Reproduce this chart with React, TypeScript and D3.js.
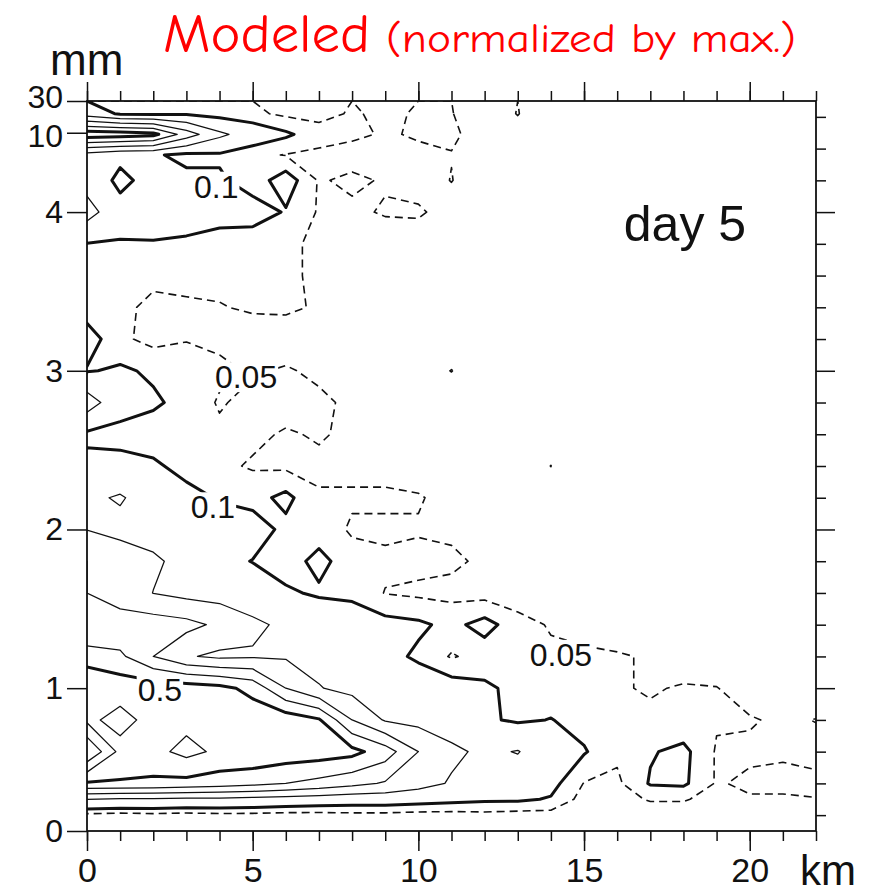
import React, { useEffect, useRef } from 'react';
import * as d3 from 'd3';

// distance along x (km), one grid column per km
const distanceKm = [0, 1, 2, 3, 4, 5, 6, 7, 8, 9, 10, 11, 12, 13, 14, 15, 16, 17, 18, 19, 20, 21, 22];

// drop size bin position (index units on the y axis) for each grid row, bottom to top
const binIndex = [0.5, 1.0, 1.5, 2.5, 3.5, 4.5, 5.5, 6.5, 7.5, 8.5, 9.5, 10.5, 11.5, 12.5, 13.5, 14.5, 15.5, 16.5, 17.5, 18.5, 19.5, 20.5, 21.3, 21.95, 22.6];

// normalized values, one array per size bin (row00 = smallest drops)
const row00 = [0.035, 0.03, 0.035, 0.03, 0.035, 0.035, 0.03, 0.03, 0.035, 0.035, 0.03, 0.03, 0.035, 0.03, 0.03, 0.02, 0.02, 0.02, 0.02, 0.02, 0.02, 0.03, 0.035];
const row00h = [0.2, 0.19, 0.19, 0.18, 0.18, 0.17, 0.16, 0.15, 0.14, 0.14, 0.13, 0.12, 0.11, 0.11, 0.095, 0.03, 0.03, 0.055, 0.055, 0.03, 0.045, 0.045, 0.048];
const row01 = [0.49, 0.49, 0.48, 0.47, 0.45, 0.43, 0.4, 0.37, 0.33, 0.29, 0.24, 0.19, 0.17, 0.14, 0.12, 0.048, 0.04, 0.105, 0.11, 0.045, 0.06, 0.06, 0.065];
const row02 = [0.8, 0.57, 0.57, 0.63, 0.58, 0.58, 0.56, 0.55, 0.53, 0.45, 0.3, 0.22, 0.18, 0.205, 0.13, 0.105, 0.06, 0.095, 0.115, 0.045, 0.04, 0.045, 0.03];
const row03 = [0.58, 0.63, 0.57, 0.57, 0.57, 0.56, 0.56, 0.51, 0.3, 0.19, 0.17, 0.15, 0.11, 0.09, 0.102, 0.08, 0.065, 0.06, 0.06, 0.055, 0.055, 0.04, 0.052];
const row04 = [0.6, 0.56, 0.56, 0.55, 0.53, 0.47, 0.3, 0.205, 0.17, 0.15, 0.14, 0.13, 0.11, 0.085, 0.07, 0.06, 0.055, 0.045, 0.055, 0.052, 0.02, 0.01, 0];
const row05 = [0.45, 0.42, 0.3, 0.21, 0.18, 0.19, 0.19, 0.17, 0.15, 0.12, 0.09, 0.045, 0.07, 0.06, 0.06, 0.06, 0.055, 0.045, 0.02, 0.01, 0, 0, 0];
const row06 = [0.3, 0.32, 0.35, 0.33, 0.28, 0.22, 0.18, 0.16, 0.14, 0.12, 0.11, 0.085, 0.12, 0.07, 0.045, 0.03, 0.02, 0.01, 0, 0, 0, 0, 0];
const row07 = [0.3, 0.28, 0.198, 0.17, 0.16, 0.14, 0.11, 0.09, 0.085, 0.048, 0.04, 0.035, 0.03, 0.02, 0.01, 0, 0, 0, 0, 0, 0, 0, 0];
const row08 = [0.3, 0.26, 0.22, 0.16, 0.12, 0.098, 0.07, 0.12, 0.065, 0.06, 0.065, 0.06, 0.04, 0.02, 0.01, 0, 0, 0, 0, 0, 0, 0, 0];
const row09 = [0.198, 0.17, 0.15, 0.14, 0.13, 0.13, 0.085, 0.07, 0.045, 0.04, 0.045, 0.04, 0.03, 0.02, 0.01, 0, 0, 0, 0, 0, 0, 0, 0];
const row10 = [0.18, 0.21, 0.15, 0.12, 0.095, 0.08, 0.115, 0.055, 0.055, 0.06, 0.055, 0.03, 0.02, 0.01, 0, 0, 0, 0, 0, 0, 0, 0, 0];
const row11 = [0.12, 0.12, 0.11, 0.08, 0.06, 0.045, 0.04, 0.04, 0.04, 0.03, 0.02, 0.01, 0, 0, 0.051, 0, 0, 0, 0, 0, 0, 0, 0];
const row12 = [0.085, 0.08, 0.07, 0.06, 0.06, 0.06, 0.045, 0.055, 0.04, 0.03, 0.02, 0.01, 0, 0, 0, 0, 0, 0, 0, 0, 0, 0, 0];
const row13 = [0.25, 0.13, 0.11, 0.08, 0.045, 0.065, 0.07, 0.06, 0.04, 0.02, 0.01, 0, 0, 0, 0, 0, 0, 0, 0, 0, 0, 0, 0];
const row14 = [0.095, 0.11, 0.09, 0.07, 0.06, 0.045, 0.055, 0.04, 0.03, 0.02, 0.01, 0.052, 0, 0, 0, 0, 0, 0, 0, 0, 0, 0, 0];
const row15 = [0.13, 0.06, 0.035, 0.048, 0.04, 0.03, 0.025, 0.02, 0.02, 0.01, 0, 0, 0, 0, 0, 0, 0, 0, 0, 0, 0, 0, 0];
const row16 = [0.07, 0.055, 0.045, 0.045, 0.048, 0.055, 0.058, 0.045, 0.03, 0.02, 0.01, 0, 0, 0, 0, 0, 0, 0, 0, 0, 0, 0, 0];
const row17 = [0.07, 0.06, 0.055, 0.06, 0.06, 0.055, 0.055, 0.045, 0.04, 0.03, 0.02, 0.01, 0, 0, 0, 0, 0, 0, 0, 0, 0, 0, 0];
const row18 = [0.098, 0.095, 0.095, 0.09, 0.07, 0.065, 0.06, 0.04, 0.03, 0.02, 0.01, 0, 0, 0, 0, 0, 0, 0, 0, 0, 0, 0, 0];
const row19 = [0.24, 0.13, 0.14, 0.13, 0.13, 0.13, 0.095, 0.045, 0.04, 0.055, 0.06, 0.02, 0.01, 0, 0, 0, 0, 0, 0, 0, 0, 0, 0];
const row20 = [0.16, 0.08, 0.13, 0.12, 0.11, 0.07, 0.13, 0.045, 0.06, 0.045, 0.02, 0.052, 0.01, 0, 0, 0, 0, 0, 0, 0, 0, 0, 0];
const row21 = [0.16, 0.12, 0.11, 0.08, 0.09, 0.06, 0.048, 0.04, 0.03, 0.03, 0.04, 0.048, 0.02, 0.01, 0, 0, 0, 0, 0, 0, 0, 0, 0];
const row22 = [0.56, 0.55, 0.53, 0.35, 0.22, 0.15, 0.11, 0.07, 0.06, 0.045, 0.055, 0.058, 0.03, 0.03, 0.01, 0, 0, 0, 0, 0, 0, 0, 0];
const row23 = [0.15, 0.09, 0.08, 0.09, 0.07, 0.06, 0.04, 0.035, 0.055, 0.04, 0.055, 0.052, 0.02, 0.052, 0.01, 0, 0, 0, 0, 0, 0, 0, 0];

const levels = [0.05, 0.1, 0.2, 0.3, 0.4, 0.5, 0.6, 0.7, 0.8, 0.9];

// y axis labels (mm) and where they sit on the bin axis
const yTickLabels = ['0', '1', '2', '3', '4', '10', '30'];
const yTickBins = [0, 4.5, 9.5, 14.5, 19.5, 22, 23];
const rightMinorBins = [0.5, 1.5, 2.5, 3.5, 5.5, 6.5, 7.5, 8.5, 10.5, 11.5, 12.5, 13.5, 15.5, 16.5, 17.5, 18.5, 20.5, 21.5, 22.5];
const rightMajorBins = [4.5, 9.5, 14.5, 19.5];
const xMajorTicks = [0, 5, 10, 15, 20];

// in-line contour labels
const contourLabelText = ['0.1', '0.05', '0.1', '0.5', '0.05'];
const contourLabelKm = [3.9, 4.8, 3.8, 2.2, 14.3];
const contourLabelBin = [20.3, 14.3, 10.2, 4.45, 5.55];

const FONT = '"Liberation Sans", Arial, Helvetica, sans-serif';

const App = () => {
  const svgRef = useRef(null);

  useEffect(() => {
    const svg = d3.select(svgRef.current);
    svg.selectAll('*').remove();

    const x = d3.scaleLinear().domain([0, 22]).range([87, 816]);
    const y = d3.scaleLinear().domain([0, 23]).range([831, 101]);

    const rows = [row00, row00h, row01, row02, row03, row04, row05, row06, row07, row08, row09, row10, row11,
      row12, row13, row14, row15, row16, row17, row18, row19, row20, row21, row22, row23];
    const nx = distanceKm.length;
    const ny = rows.length;
    const values = rows.flat();

    // contour grid coordinates -> data coordinates
    const gxToKm = d3.scaleLinear()
      .domain([0, ...distanceKm.map((_, i) => i + 0.5), nx])
      .range([-0.5, ...distanceKm, 22.5]);
    const gyToBin = d3.scaleLinear()
      .domain([0, ...binIndex.map((_, j) => j + 0.5), ny])
      .range([0, ...binIndex, 23]);

    const proj = d3.geoTransform({
      point: function (this: any, px: number, py: number) {
        this.stream.point(x(gxToKm(px)), y(gyToBin(py)));
      },
    });
    const path = d3.geoPath(proj);

    const contours = d3.contours().size([nx, ny]).thresholds(levels)(values);

    svg.append('defs').append('clipPath').attr('id', 'plotclip')
      .append('rect')
      .attr('x', x(0)).attr('y', y(23))
      .attr('width', x(22) - x(0)).attr('height', y(0) - y(23));

    const cg = svg.append('g').attr('clip-path', 'url(#plotclip)');
    cg.selectAll('path')
      .data(contours)
      .enter()
      .append('path')
      .attr('d', (d: any) => path(d))
      .attr('fill', 'none')
      .attr('stroke', '#111')
      .attr('stroke-linejoin', 'round')
      .attr('stroke-width', (d: any) => (d.value === 0.1 || d.value === 0.5 ? 3 : d.value === 0.05 ? 1.6 : 1.25))
      .attr('stroke-dasharray', (d: any) => (d.value === 0.05 ? '8,5' : null));

    // contour labels with white knock-out
    const lg = svg.append('g');
    contourLabelText.forEach((txt, i) => {
      const t = lg.append('text')
        .attr('x', x(contourLabelKm[i]))
        .attr('y', y(contourLabelBin[i]))
        .attr('text-anchor', 'middle')
        .attr('dominant-baseline', 'central')
        .attr('font-family', FONT)
        .attr('font-size', 32)
        .attr('fill', '#111')
        .text(txt);
      const bb = (t.node() as any).getBBox();
      lg.insert('rect', () => t.node())
        .attr('x', bb.x - 1).attr('y', bb.y + 3)
        .attr('width', bb.width + 2).attr('height', bb.height - 6)
        .attr('fill', 'white');
    });

    // axes
    const styleAxis = (g: any) => {
      g.select('.domain').remove();
      g.selectAll('line').attr('stroke', '#111').attr('stroke-width', 1.5);
      g.selectAll('text').attr('font-family', FONT).attr('font-size', 34).attr('fill', '#111');
    };

    svg.append('g').attr('transform', `translate(0,${y(0)})`)
      .call(d3.axisBottom(x).tickValues(distanceKm).tickSize(10).tickFormat(() => ''))
      .call(styleAxis);
    svg.append('g').attr('transform', `translate(0,${y(0)})`)
      .call(d3.axisBottom(x).tickValues(xMajorTicks).tickSize(20).tickPadding(7).tickFormat(d3.format('d')))
      .call(styleAxis);
    svg.append('g').attr('transform', `translate(0,${y(23)})`)
      .call(d3.axisTop(x).tickValues(distanceKm).tickSize(10).tickFormat(() => ''))
      .call(styleAxis);
    svg.append('g').attr('transform', `translate(0,${y(23)})`)
      .call(d3.axisTop(x).tickValues(xMajorTicks).tickSize(19).tickFormat(() => ''))
      .call(styleAxis);
    const leftAxis = svg.append('g').attr('transform', `translate(${x(0)},0)`)
      .call(d3.axisLeft(y).tickValues(yTickBins).tickSize(20).tickPadding(4)
        .tickFormat((d: any, i: number) => yTickLabels[i]))
      .call(styleAxis);
    // the two top labels sit close together: nudge them apart a little
    leftAxis.selectAll('text')
      .attr('font-size', 32)
      .attr('dy', (d: any) => (d === 23 ? '0.2em' : d === 22 ? '0.42em' : '0.32em'));
    svg.append('g').attr('transform', `translate(${x(22)},0)`)
      .call(d3.axisRight(y).tickValues(rightMinorBins).tickSize(10).tickFormat(() => ''))
      .call(styleAxis);
    svg.append('g').attr('transform', `translate(${x(22)},0)`)
      .call(d3.axisRight(y).tickValues(rightMajorBins).tickSize(19).tickFormat(() => ''))
      .call(styleAxis);

    // frame
    svg.append('rect')
      .attr('x', x(0)).attr('y', y(23))
      .attr('width', x(22) - x(0)).attr('height', y(0) - y(23))
      .attr('fill', 'none').attr('stroke', '#111').attr('stroke-width', 1.8);

    // unit labels
    svg.append('text').attr('x', 50).attr('y', 75)
      .attr('font-family', FONT).attr('font-size', 44).attr('fill', '#111').text('mm');
    svg.append('text').attr('x', 800).attr('y', 885)
      .attr('font-family', FONT).attr('font-size', 42).attr('fill', '#111').text('km');

    svg.append('text').attr('x', x(16.2)).attr('y', y(18.6))
      .attr('font-family', FONT).attr('font-size', 50).attr('fill', '#111').text('day 5');

    // title
    const TFONT = '"Comic Sans MS", "Comic Neue", Lato, "Noto Sans", sans-serif';
    svg.append('text').attr('x', 163).attr('y', 52)
      .attr('font-family', TFONT).attr('font-size', 55).attr('fill', '#ff0000')
      .attr('textLength', 207).attr('lengthAdjust', 'spacingAndGlyphs')
      .text('Modeled');
    svg.append('text').attr('x', 386).attr('y', 52)
      .attr('font-family', TFONT).attr('font-size', 40).attr('fill', '#ff0000')
      .attr('textLength', 410).attr('lengthAdjust', 'spacingAndGlyphs')
      .text('(normalized by max.)');
  }, []);

  return (
    <svg ref={svgRef} width={870} height={893}
      style={{ position: 'absolute', left: 0, top: 0, background: 'white' }}></svg>
  );
};

export default App;
